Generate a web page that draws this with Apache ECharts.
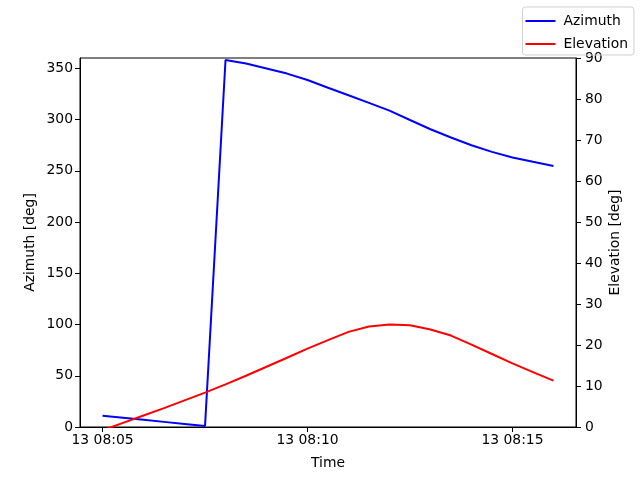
<!DOCTYPE html>
<html>
<head>
<meta charset="utf-8">
<script src="https://cdn.jsdelivr.net/npm/echarts@6/dist/echarts.min.js"></script>
<style>html,body{margin:0;padding:0;background:#fff}#c{width:640px;height:480px}</style>
</head>
<body>
<div id="c"></div>
<script>
const times = ['08:05:00','08:05:30','08:06:00','08:06:30','08:07:00','08:07:30','08:08:00','08:08:30',
  '08:09:00','08:09:30','08:10:00','08:10:30','08:11:00','08:11:30','08:12:00','08:12:30','08:13:00',
  '08:13:30','08:14:00','08:14:30','08:15:00','08:15:30','08:16:00'];
const azimuth = [11.0, 9.0, 7.0, 5.0, 3.0, 1.0, 358.1, 354.6, 349.7, 344.8, 338.5, 331.0, 323.7, 316.2,
  308.6, 299.5, 290.5, 282.4, 274.9, 268.4, 262.9, 258.7, 254.6];
const elevation = [-0.8, 1.0, 2.8, 4.6, 6.5, 8.4, 10.4, 12.5, 14.7, 16.9, 19.1, 21.2, 23.2, 24.5,
  25.0, 24.8, 23.8, 22.3, 20.1, 17.8, 15.5, 13.4, 11.3];
const xTicks = ['08:05:00','08:10:00','08:15:00'];
const xRange = ['08:04:27','08:16:33'];
const azTicks = [0,50,100,150,200,250,300,350];
const elTicks = [0,10,20,30,40,50,60,70,80,90];

function toMs(t){const p=t.split(':').map(Number);return Date.UTC(2024,0,13,p[0],p[1],p[2]);}
function pad(n){return (n<10?'0':'')+n;}
function fmt(v){const d=new Date(v);return d.getUTCDate()+' '+pad(d.getUTCHours())+':'+pad(d.getUTCMinutes());}

const F='DejaVu Sans';
const FS=13.9;
const chart=echarts.init(document.getElementById('c'),null,{renderer:'canvas'});
chart.setOption({
  animation:false,
  textStyle:{fontFamily:F},
  grid:{left:80,right:64,top:58,bottom:53,show:true,borderColor:'#000',borderWidth:1,backgroundColor:'transparent'},
  legend:{
    orient:'vertical',right:6,top:7,
    data:['Azimuth','Elevation'],
    icon:'rect',itemWidth:30,itemHeight:2,itemGap:9,
    borderColor:'#d0d0d0',borderWidth:1,borderRadius:3,
    padding:[7,6,4,3],
    textStyle:{fontFamily:F,fontSize:FS,color:'#000',padding:[0,0,0,3]}
  },
  xAxis:{
    type:'value',
    min:toMs(xRange[0]),max:toMs(xRange[1]),
    name:'Time',nameLocation:'middle',nameGap:29,
    nameTextStyle:{fontFamily:F,fontSize:FS,color:'#000'},
    axisLine:{show:true,lineStyle:{color:'#000',width:1}},
    axisTick:{show:true,inside:false,length:5,lineStyle:{color:'#000'},customValues:xTicks.map(toMs)},
    axisLabel:{color:'#000',fontFamily:F,fontSize:FS,margin:6,customValues:xTicks.map(toMs),formatter:fmt},
    splitLine:{show:false}
  },
  yAxis:[{
    type:'value',min:0,max:360,position:'left',
    name:'Azimuth [deg]',nameLocation:'middle',nameGap:43,nameRotate:90,nameMoveOverlap:false,
    nameTextStyle:{fontFamily:F,fontSize:FS,color:'#000'},
    axisLine:{show:true,lineStyle:{color:'#000',width:1}},
    axisTick:{show:true,length:5,lineStyle:{color:'#000'},customValues:azTicks},
    axisLabel:{color:'#000',fontFamily:F,fontSize:FS,margin:7,customValues:azTicks},
    splitLine:{show:false}
  },{
    type:'value',min:0,max:90,position:'right',
    name:'Elevation [deg]',nameLocation:'middle',nameGap:32,nameRotate:90,nameMoveOverlap:false,
    nameTextStyle:{fontFamily:F,fontSize:FS,color:'#000'},
    axisLine:{show:true,lineStyle:{color:'#000',width:1}},
    axisTick:{show:true,length:5,lineStyle:{color:'#000'},customValues:elTicks},
    axisLabel:{color:'#000',fontFamily:F,fontSize:FS,margin:9,customValues:elTicks},
    splitLine:{show:false}
  }],
  series:[{
    name:'Azimuth',type:'line',yAxisIndex:0,showSymbol:false,symbol:'none',
    color:'#0000ff',lineStyle:{color:'#0000ff',width:2},
    data:times.map((t,i)=>[toMs(t),azimuth[i]])
  },{
    name:'Elevation',type:'line',yAxisIndex:1,showSymbol:false,symbol:'none',clip:true,
    color:'#ff0000',lineStyle:{color:'#ff0000',width:2},
    data:times.map((t,i)=>[toMs(t),elevation[i]])
  }]
});
</script>
</body>
</html>
